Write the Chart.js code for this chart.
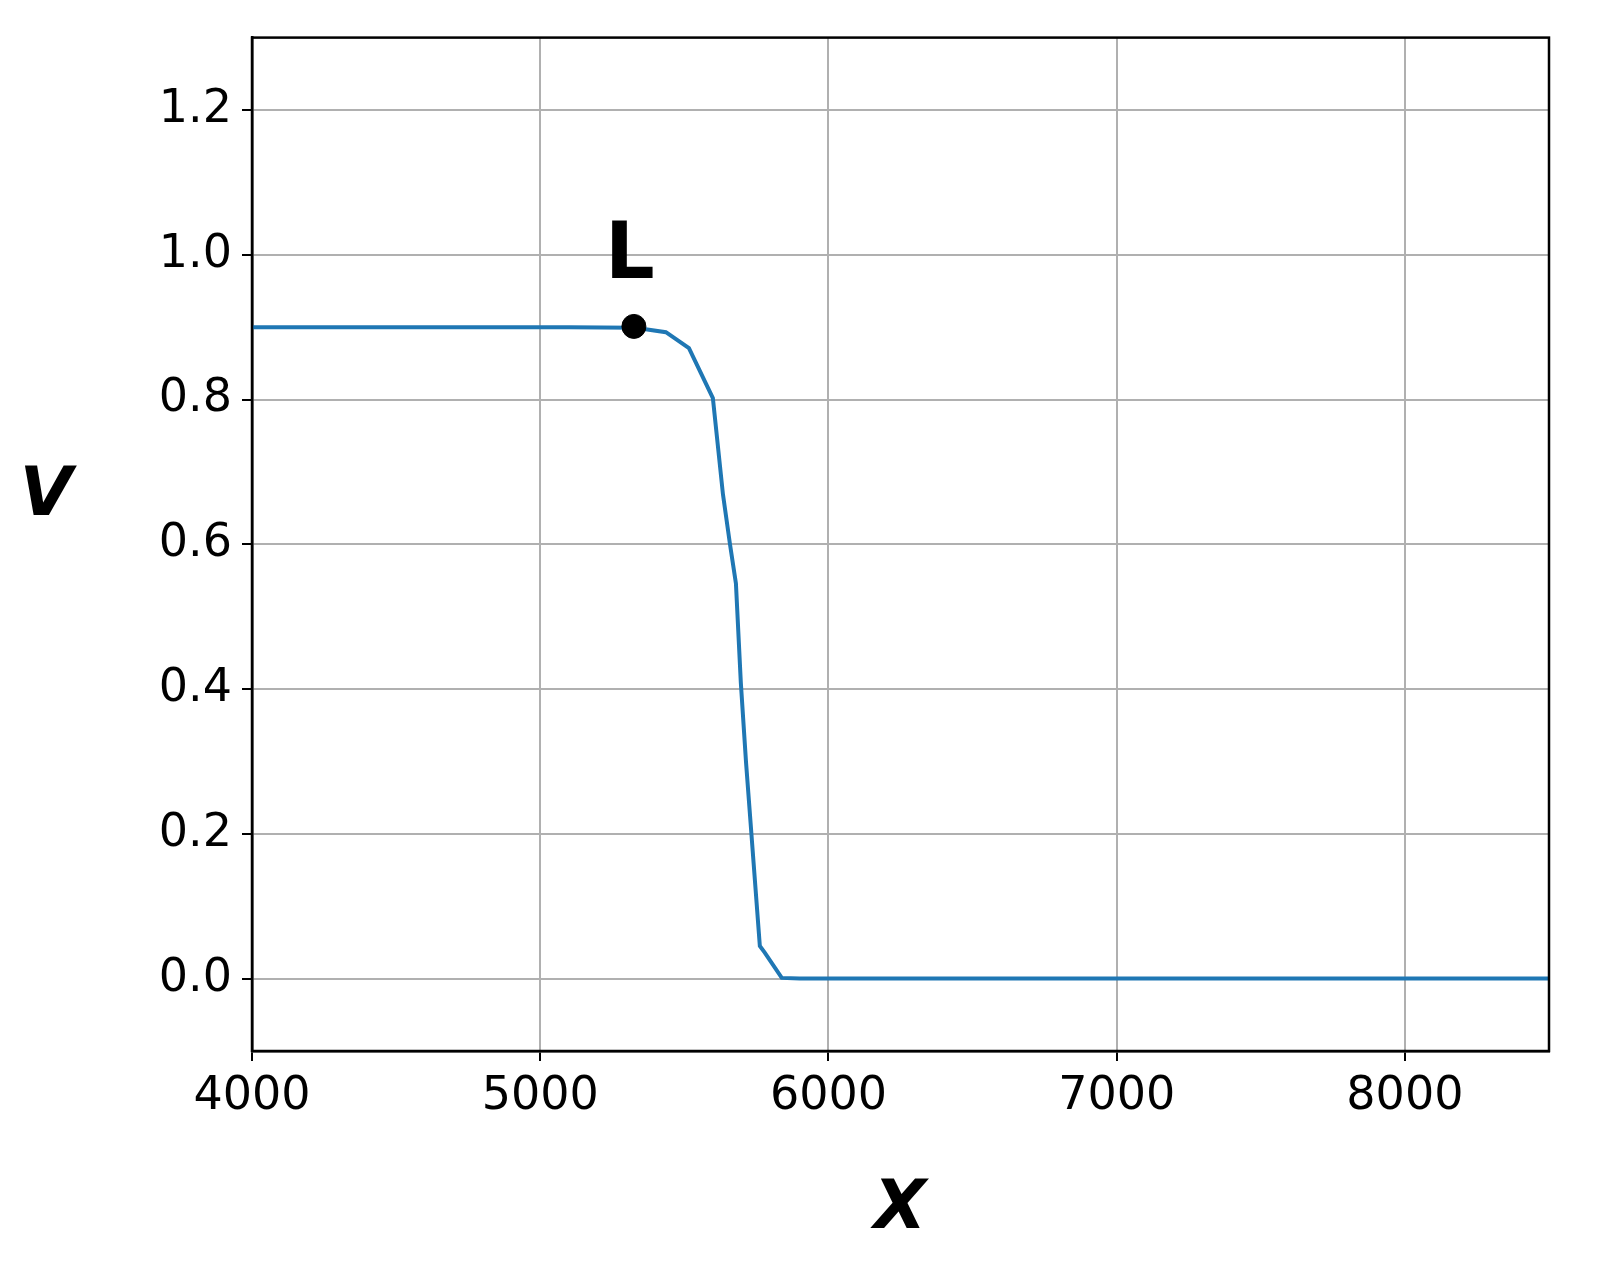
<!DOCTYPE html>
<html><head><meta charset="utf-8">
<script src="https://cdn.jsdelivr.net/npm/chart.js@4"></script>
<style>html,body{margin:0;padding:0;background:#fff;overflow:hidden}canvas{display:block}</style>
</head><body><canvas id="c" width="1599" height="1272" style="width:1599px;height:1272px"></canvas>
<script>
const xs = [4000,4500,5000,5100,5330,5436,5516,5599,5634,5658,5679,5696,5714,5762,5779,5838,5900,6500,7500,8500];
const vs = [0.9,0.9,0.9,0.9,0.899,0.893,0.871,0.802,0.669,0.601,0.546,0.409,0.299,0.045,0.036,0.001,0,0,0,0];
const pointL = {x:5325, y:0.901, label:'L'};
const xTicks = [4000,5000,6000,7000,8000];
const yTicks = [0,0.2,0.4,0.6,0.8,1.0,1.2];
const F = 'DejaVu Sans';
const labelPlugin = {id:'lbl', afterDraw(ch){
  const c=ch.ctx, a=ch.chartArea, px=ch.scales.x.getPixelForValue(pointL.x), py=ch.scales.y.getPixelForValue(pointL.y);
  c.save(); c.fillStyle='#000'; c.font='bold 78px '+F; c.textAlign='center'; c.textBaseline='alphabetic';
  c.fillText(pointL.label, px-4, py-48);
  c.font='italic bold 68px '+F;
  c.fillText('V', 46, 515);
  c.fillText('X', 900, 1228);
  c.strokeStyle='#000'; c.lineWidth=2.5; c.strokeRect(a.left,a.top,a.right-a.left,a.bottom-a.top);
  c.restore();
}};
new Chart(document.getElementById('c'),{
  type:'scatter',
  data:{datasets:[
    {data:xs.map((x,i)=>({x,y:vs[i]})),showLine:true,borderColor:'#1f77b4',borderWidth:4,pointRadius:0,order:2},
    {data:[{x:pointL.x,y:pointL.y}],pointRadius:12,backgroundColor:'#000',borderColor:'#000',order:1}
  ]},
  options:{responsive:false,devicePixelRatio:1,animation:false,
    layout:{padding:{top:31,right:50,left:0,bottom:0}},
    plugins:{legend:{display:false},tooltip:{enabled:false}},
    scales:{
      x:{type:'linear',min:4000,max:8500,
        afterBuildTicks(s){s.ticks=xTicks.map(v=>({value:v}));},
        afterFit(s){s.height=221;},
        grid:{color:'#b0b0b0',lineWidth:2,tickLength:10,tickColor:'#000'},
        border:{color:'#000',width:2.5},
        ticks:{color:'#000',font:{family:F,size:46},padding:8,maxRotation:0,callback:v=>String(v)}},
      y:{min:-0.1,max:1.3,
        afterBuildTicks(s){s.ticks=yTicks.map(v=>({value:v}));},
        afterFit(s){s.width=252;},
        grid:{color:'#b0b0b0',lineWidth:2,tickLength:10,tickColor:'#000'},
        border:{color:'#000',width:2.5},
        ticks:{color:'#000',font:{family:F,size:46},padding:10,callback:v=>v.toFixed(1)}}
    }},
  plugins:[labelPlugin]
});
</script></body></html>
